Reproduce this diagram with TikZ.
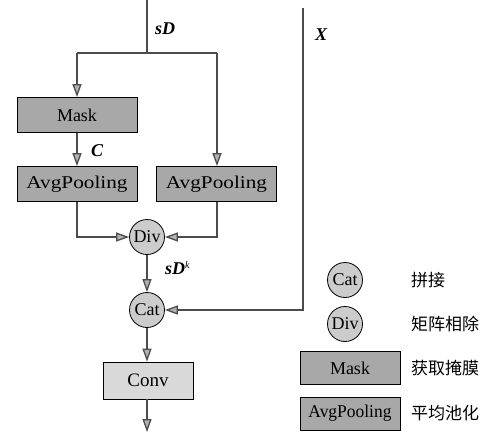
\documentclass[tikz,border=0pt]{standalone}
\usepackage{fontspec}
\setmainfont{Liberation Serif}
\newfontfamily\cjk{Noto Sans CJK SC}
\usetikzlibrary{arrows.meta}
\definecolor{linegray}{gray}{0.3}
\tikzset{
  x=1pt, y=-1pt,
  darkbox/.style={draw=black, line width=0.8pt, fill=gray!68, minimum width=120pt, minimum height=35pt, inner sep=0pt, font=\fontsize{18}{18}\selectfont},
  lightbox/.style={draw=black, line width=0.8pt, fill=gray!30, minimum width=90pt, minimum height=37pt, inner sep=0pt, font=\fontsize{19}{19}\selectfont},
  opcirc/.style={circle, draw=black, line width=0.8pt, fill=gray!40, minimum size=35pt, inner sep=0pt, font=\fontsize{18}{18}\selectfont},
  conn/.style={draw=linegray, line width=1.3pt},
  arr/.style={conn, -{Triangle[length=13pt,width=9pt,fill=gray!60,color=linegray]}},
  lbl/.style={font=\fontsize{18}{18}\selectfont\bfseries\itshape, inner sep=0pt},
  cjklbl/.style={font=\fontsize{17}{17}\selectfont\cjk, anchor=west, inner sep=0pt},
}
\newcommand{\wide}[1]{\scalebox{1.18}[1]{#1}}
\begin{document}
\begin{tikzpicture}
\useasboundingbox (0,0) rectangle (490,432);
% nodes
\node[darkbox] (mask) at (77,115) {Mask};
\node[darkbox] (avgl) at (77,184) {\wide{AvgPooling}};
\node[darkbox] (avgr) at (216.5,184) {\wide{AvgPooling}};
\node[opcirc] (div) at (147,237) {Div};
\node[opcirc] (cat) at (147,310) {Cat};
\node[lightbox] (conv) at (148,380.5) {Conv};
% coordinates
\coordinate (top) at (147,0);
\coordinate (split) at (147,53);
\coordinate (sl) at (77,53);
\coordinate (sr) at (217,53);
\coordinate (xtop) at (303,8);
\coordinate (xcorner) at (303,310);
\coordinate (out) at (147,432);
% connectors
\draw[conn] (top) -- (split);
\draw[conn] (sl) -- (sr);
\draw[arr] (sl) -- (mask.north);
\draw[arr] (sr) -- (avgr.north -| sr);
\draw[arr] (mask.south) -- (avgl.north);
\draw[arr] (avgl.south) |- (div.west);
\draw[arr] (avgr.south -| sr) |- (div.east);
\draw[arr] (div) -- (cat);
\draw[arr] (xtop) -- (xcorner) -- (cat.east);
\draw[arr] (cat) -- (conv.north -| cat);
\draw[arr] (conv.south -| cat) -- (out);
% labels
\node[lbl, anchor=west] (lsd) at (155,29) {sD};
\node[lbl, anchor=west] (lx) at (315,35) {X};
\node[lbl, anchor=west] (lc) at (91,151) {C};
\node[lbl, anchor=west] (lsdk) at (165,268) {sD\textsuperscript{\normalfont\fontsize{10}{10}\selectfont\itshape k}};
% legend
\node[opcirc] (lcat) at (345,280) {Cat};
\node[opcirc] (ldiv) at (345,324) {Div};
\node[darkbox, minimum width=100pt, minimum height=33pt] (lmask) at (350,368) {Mask};
\node[darkbox, minimum width=100pt, minimum height=33pt] (lavg) at (350,413.5) {\scalebox{0.97}[1]{AvgPooling}};
\node[cjklbl] (tcat) at (411,280) {拼接};
\node[cjklbl] (tdiv) at (411,324) {矩阵相除};
\node[cjklbl] (tmask) at (411,368) {获取掩膜};
\node[cjklbl] (tavg) at (411,413) {平均池化};
\end{tikzpicture}
\end{document}
